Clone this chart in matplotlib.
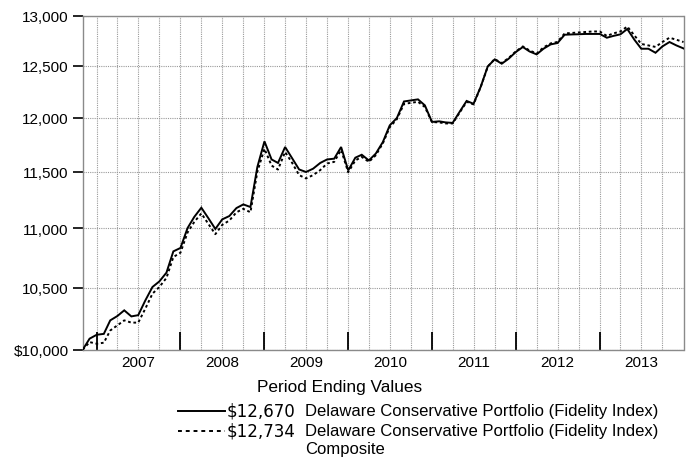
import matplotlib
matplotlib.use("Agg")
import matplotlib.pyplot as plt
import matplotlib.dates as mdates
from matplotlib.lines import Line2D
from matplotlib.ticker import FixedLocator, FuncFormatter, NullLocator
import matplotlib.transforms as mtransforms
import pandas as pd

plt.rcParams['font.family'] = ['Liberation Sans', 'DejaVu Sans']

dates = pd.date_range("2006-10-31", "2013-12-31", freq="ME")

portfolio = [
    10000, 10087, 10118,
    10125, 10233, 10268, 10314, 10265, 10275, 10395, 10505, 10551, 10624, 10803, 10832,
    11003, 11099, 11180, 11090, 10995, 11078, 11107, 11177, 11209, 11186, 11543, 11778,
    11612, 11580, 11726, 11625, 11521, 11498, 11528, 11580, 11612, 11619, 11726, 11512,
    11628, 11655, 11603, 11665, 11772, 11927, 11996, 12153, 12163, 12173, 12116, 11959,
    11965, 11955, 11950, 12053, 12158, 12131, 12292, 12492, 12561, 12519, 12568, 12634,
    12684, 12640, 12611, 12667, 12710, 12724, 12807, 12810, 12812, 12815, 12815, 12815,
    12777, 12795, 12811, 12865, 12757, 12667, 12667, 12627, 12690, 12734, 12700, 12670,
]

composite = [
    10000, 10060, 10047,
    10055, 10152, 10193, 10233, 10215, 10215, 10328, 10450, 10505, 10580, 10755, 10792,
    10965, 11055, 11130, 11040, 10950, 11030, 11068, 11140, 11170, 11140, 11500, 11710,
    11556, 11520, 11680, 11583, 11470, 11440, 11470, 11515, 11575, 11590, 11700, 11495,
    11603, 11635, 11590, 11650, 11760, 11910, 11985, 12130, 12140, 12150, 12100, 11958,
    11955, 11945, 11945, 12045, 12150, 12125, 12290, 12490, 12565, 12525, 12575, 12640,
    12690, 12650, 12620, 12680, 12720, 12735, 12820, 12825, 12830, 12835, 12840, 12840,
    12795, 12820, 12840, 12890, 12800, 12715, 12700, 12685, 12734, 12777, 12757, 12734,
]

series_names = [
    "Delaware Conservative Portfolio (Fidelity Index)",
    "Delaware Conservative Portfolio (Fidelity Index)\nComposite",
]
year_labels = ["2007", "2008", "2009", "2010", "2011", "2012", "2013"]
y_ticks = [10000, 10500, 11000, 11500, 12000, 12500, 13000]

W, H = 691, 477
fig = plt.figure(figsize=(W / 100, H / 100), dpi=100)
ax = fig.add_axes([82.7 / W, 1 - 350.7 / H, (683.5 - 82.7) / W, (350.7 - 16.7) / H])

FS = 11
DOT = (0, (1.4, 1.4))
ax.plot(dates, portfolio, color="black", lw=1.4, solid_joinstyle="miter", zorder=3)
ax.plot(dates, composite, color="black", lw=1.4, linestyle=DOT, zorder=3)

ax.set_yscale("log")
ax.set_ylim(10000, 13000)
ax.set_xlim(dates[0], dates[-1])
ax.yaxis.set_major_locator(FixedLocator(y_ticks))
ax.yaxis.set_minor_locator(NullLocator())
ax.yaxis.set_major_formatter(FuncFormatter(lambda v, p: ("$" if v == 10000 else "") + f"{int(round(v)):,}"))
ax.tick_params(axis="y", which="major", direction="out", length=7, width=1.2, color="black",
               labelsize=FS, pad=3)

year_ends = [pd.Timestamp(f"{y}-12-31") for y in range(2006, 2013)]
quarter_ends = [d for d in pd.date_range("2006-12-31", "2013-12-31", freq="QE") if d.month != 12]
ax.xaxis.set_major_locator(FixedLocator(mdates.date2num(year_ends)))
ax.xaxis.set_minor_locator(FixedLocator(mdates.date2num(quarter_ends)))
ax.xaxis.set_major_formatter(FuncFormatter(lambda v, p: ""))
ax.tick_params(axis="x", which="major", direction="in", length=13, width=1.3, color="black")
ax.tick_params(axis="x", which="minor", length=0)

ax.grid(True, which="both", axis="x", color="#9a9a9a", linestyle=(0, (1, 1)), lw=0.8)
ax.grid(True, which="major", axis="y", color="#9a9a9a", linestyle=(0, (1, 1)), lw=0.8)
ax.set_axisbelow(True)

for s in ax.spines.values():
    s.set_color("#8a8a8a")
    s.set_linewidth(1.0)

trans = mtransforms.blended_transform_factory(ax.transData, ax.transAxes)
for lab in year_labels:
    mid = pd.Timestamp(f"{int(lab)}-07-01")
    ax.text(mdates.date2num(mid), -12 / 334, lab, transform=trans, ha="center", va="center", fontsize=FS)


def fx(px):
    return px / W


def fy(py):
    return 1 - py / H


fig.text(fx(257), fy(388), "Period Ending Values", ha="left", va="center", fontsize=12.4)

rows = [
    (411.7, "-", portfolio[-1], series_names[0]),
    (431.7, (0, (2, 2)), composite[-1], series_names[1]),
]
for py, ls, val, name in rows:
    fig.add_artist(Line2D([fx(178), fx(225)], [fy(py), fy(py)], color="black", lw=1.4,
                          linestyle=ls, transform=fig.transFigure))
    fig.text(fx(227), fy(py), f"${val:,}", ha="left", va="center", fontsize=12,
             family=["DejaVu Sans"])
    for k, ln in enumerate(name.split("\n")):
        fig.text(fx(305), fy(py + k * 18.3), ln, ha="left", va="center", fontsize=12)

fig.savefig("out.png", dpi=100)
